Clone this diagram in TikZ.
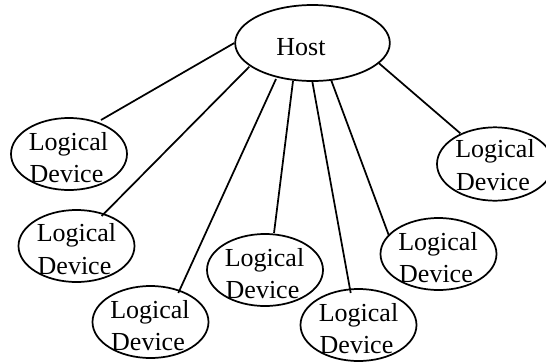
\documentclass[tikz,border=0pt]{standalone}
\usepackage{fontspec}
\usetikzlibrary{shapes.geometric}
\setmainfont{Liberation Serif}
\tikzset{
  dev/.style={draw=black,ellipse,line width=1.3pt,minimum width=87pt,minimum height=54pt,inner sep=0pt},
  hostnode/.style={dev,minimum width=116pt,minimum height=57pt},
  lbl/.style={font=\fontsize{19.5}{24}\selectfont,inner sep=0pt,anchor=base},
  conn/.style={draw=black,line width=1.3pt}
}
\newcommand{\devtext}[4]{%
  \node[lbl] (#1t1) at (#2,#3) {Logical};
  \node[lbl] (#1t2) at (#2-2,#4) {Device};
}
\begin{document}
\begin{tikzpicture}[x=0.75pt,y=-0.75pt]
\useasboundingbox[fill=white] (0,0) rectangle (546,361);
\node[hostnode] (host) at (312.5,43) {};
\node[dev] (a) at (69,154) {};
\node[dev] (b) at (76.5,246) {};
\node[dev] (c) at (150.5,322) {};
\node[dev] (d) at (265,270) {};
\node[dev] (e) at (358.5,325) {};
\node[dev] (f) at (438.5,254) {};
\node[dev,minimum height=55pt] (g) at (495,164) {};
\node[lbl] (hostt) at (301,55.7) {Host};
\devtext{a}{68.5}{150}{182}
\devtext{b}{76.5}{241.7}{274}
\devtext{c}{150}{318}{350}
\devtext{d}{264.5}{266}{298}
\devtext{e}{358.5}{321.7}{353.5}
\devtext{f}{438}{250}{282}
\devtext{g}{495}{157.7}{190}
\draw[conn] (host.west) -- ([shift={(32,-34)}]a.center);
\draw[conn] ([shift={(-63.2,23.7)}]host.center) -- ([shift={(25.2,-30)}]b.center);
\draw[conn] ([shift={(-36.5,36)}]host.center) -- ([shift={(27.8,-29)}]c.center);
\draw[conn] ([shift={(-19.5,38)}]host.center) -- ([shift={(9,-37)}]d.center);
\draw[conn] ([shift={(-0.2,38.5)}]host.center) -- ([shift={(-7.8,-32)}]e.center);
\draw[conn] ([shift={(18.8,37.5)}]host.center) -- ([shift={(-49.8,-19)}]f.center);
\draw[conn] ([shift={(66.5,20.3)}]host.center) -- ([shift={(-34.7,-30.7)}]g.center);
\end{tikzpicture}
\end{document}
